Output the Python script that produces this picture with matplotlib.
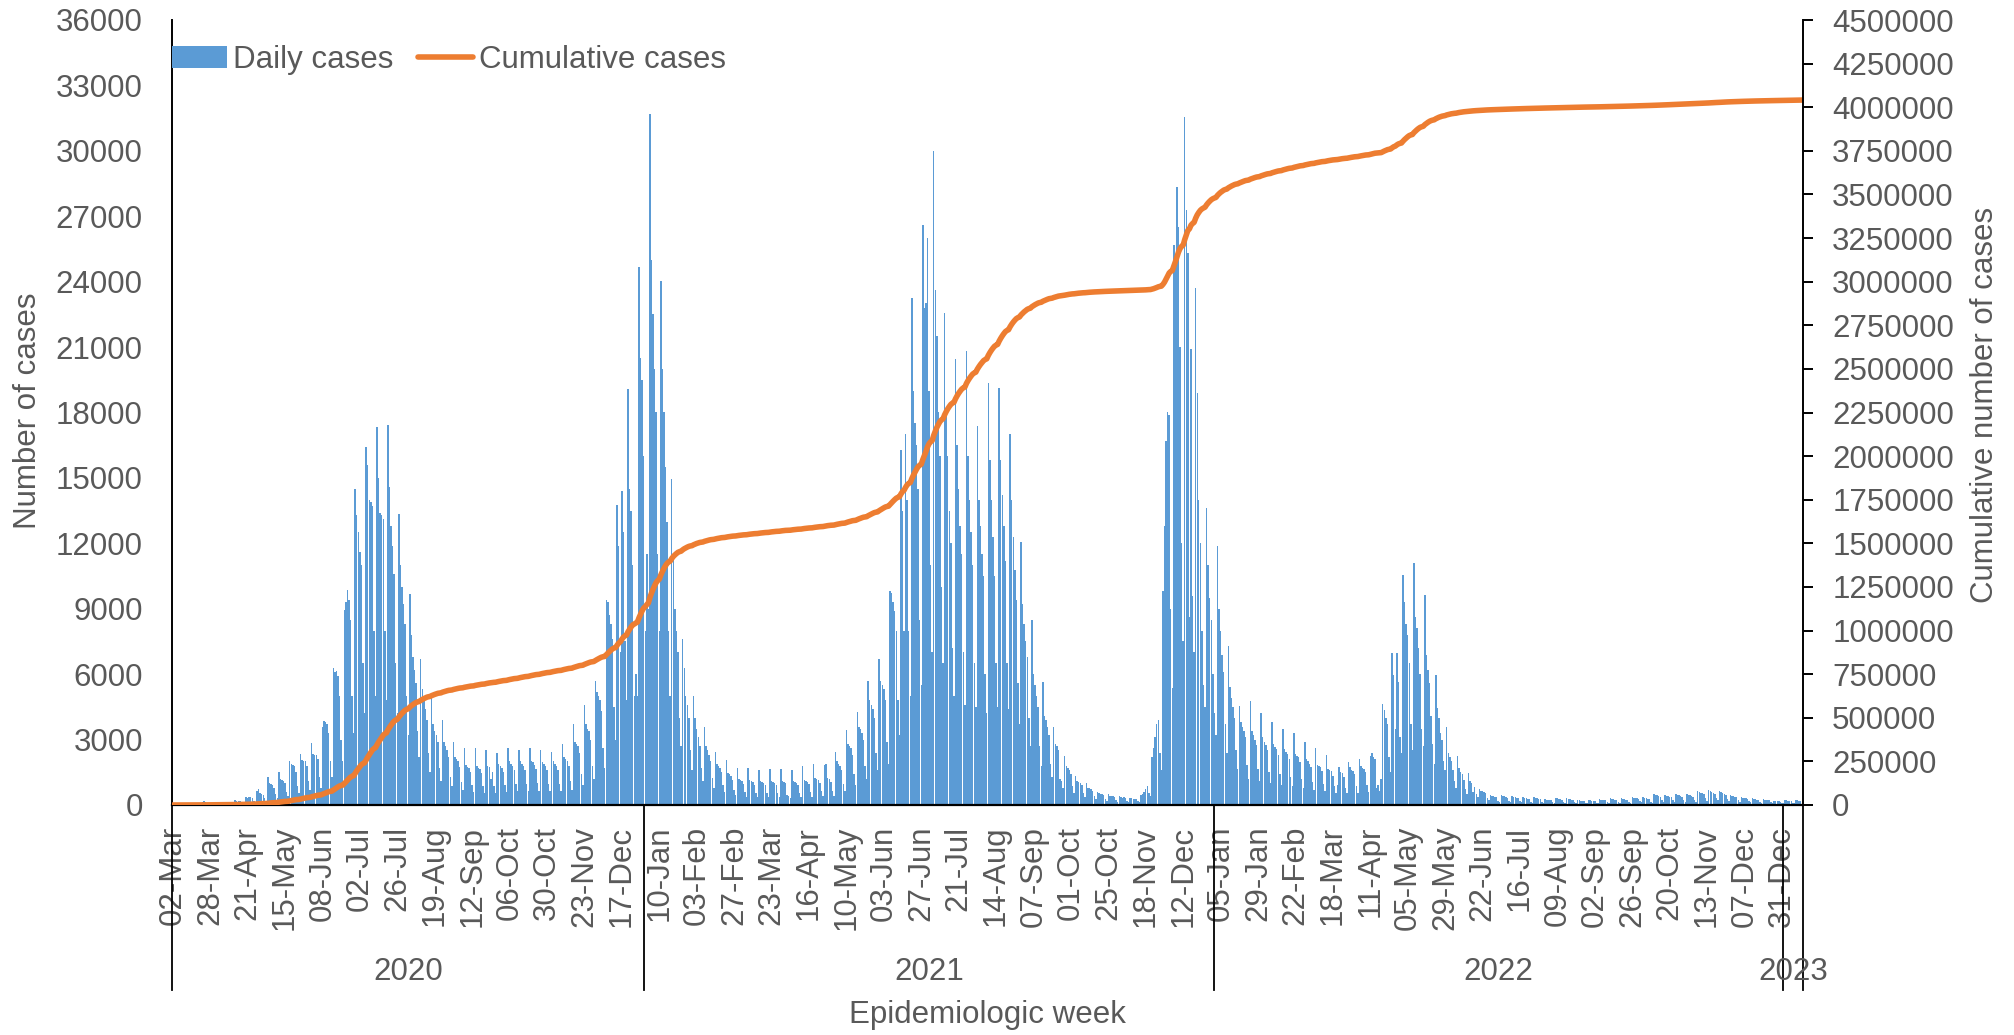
import matplotlib
matplotlib.use('Agg')
import matplotlib.pyplot as plt
import numpy as np
import pandas as pd

plt.rcParams['font.family'] = ['Liberation Sans', 'DejaVu Sans']
GREY = '#595959'

# reporting days: 02-Mar-2020, then 05-Mar-2020 .. 13-Jan-2023
dates = [pd.Timestamp('2020-03-02')] + list(pd.date_range('2020-03-05', '2023-01-13'))

# 02-Mar, 05-Mar .. 08-Mar
first_days = [0, 1, 0, 1, 1]

# daily cases, one row per week, Mon..Sun (row = Monday date)
weeks_2020 = [
    [3, 4, 6, 10, 13, 20, 24],                          # 09-Mar
    [30, 35, 50, 60, 80, 90, 60],
    [130, 170, 120, 90, 70, 60, 40],
    [50, 60, 70, 60, 55, 40, 30],
    [120, 110, 100, 95, 90, 60, 40],                    # 06-Apr
    [230, 200, 190, 180, 150, 100, 70],
    [380, 330, 350, 370, 300, 180, 120],
    [650, 720, 560, 520, 480, 300, 200],
    [1270, 1000, 950, 900, 800, 500, 330],              # 04-May
    [1530, 1200, 1150, 1100, 1000, 600, 400],
    [2030, 1900, 1850, 1800, 1500, 850, 550],
    [2340, 2050, 2000, 2000, 1800, 1100, 700],
    [2830, 2350, 2300, 2300, 2100, 1300, 800],          # 01-Jun
    [3600, 3850, 3800, 3700, 3300, 2000, 1300],
    [6270, 6100, 6150, 5900, 5000, 3000, 2000],
    [8950, 9300, 9860, 9400, 8500, 5000, 3300],
    [14500, 13300, 12500, 11600, 11000, 6500, 4200],    # 29-Jun
    [16440, 15600, 14000, 13900, 13700, 8000, 5000],
    [17320, 15000, 13400, 13300, 13100, 8000, 4800],
    [17430, 14600, 12800, 11900, 10600, 6500, 4200],
    [13330, 11000, 10000, 9200, 8300, 5000, 3200],      # 27-Jul
    [9680, 7800, 6800, 6200, 5600, 3400, 2200],
    [6700, 5300, 4800, 4400, 3900, 2400, 1500],
    [4900, 3700, 3400, 3200, 2900, 1700, 1100],
    [3900, 2900, 2700, 2500, 2200, 1300, 850],          # 24-Aug
    [2900, 2200, 2100, 2000, 1750, 1050, 700],
    [2630, 1850, 1750, 1700, 1500, 900, 600],
    [2600, 1800, 1700, 1650, 1450, 850, 550],
    [2500, 1800, 1750, 1200, 1500, 850, 550],           # 21-Sep
    [2400, 1900, 1800, 1700, 1500, 900, 600],
    [2600, 2000, 1900, 1800, 1600, 950, 650],
    [2500, 2000, 1900, 1800, 1600, 950, 650],
    [2600, 2000, 1950, 1850, 1650, 1000, 650],          # 19-Oct
    [2500, 1950, 1900, 1800, 1600, 950, 650],
    [2450, 2000, 1900, 1800, 1600, 950, 650],
    [2780, 2200, 2100, 2000, 1800, 1100, 700],
    [3700, 2900, 2800, 2700, 2400, 1400, 900],          # 16-Nov
    [4600, 3700, 3500, 3400, 3000, 1800, 1200],
    [5700, 5200, 5000, 4800, 4300, 2600, 1700],
    [9400, 9300, 8700, 8300, 7600, 4500, 3000],
    [13780, 11900, 7000, 14400, 12500, 7500, 4800],     # 14-Dec
    [19060, 14500, 13500, 11000, 5000, 6000, 5000],
    [24680, 20500, 19500, 16000, 8000, 11500, 9000],
]

weeks_2021 = [
    [31690, 25000, 22500, 20000, 18000, 11500, 8000],   # 04-Jan
    [24040, 20000, 18000, 15500, 13000, 8000, 5000],
    [14960, 11500, 9000, 8000, 7000, 4000, 2700],
    [7590, 6300, 5000, 4600, 4000, 2500, 1600],
    [5000, 4000, 3500, 3100, 2700, 1700, 1100],         # 01-Feb
    [3600, 2700, 2500, 2300, 2000, 1250, 800],
    [2450, 1900, 1800, 1700, 1500, 900, 600],
    [2050, 1450, 1400, 1350, 1150, 700, 450],
    [1710, 1200, 1150, 1100, 950, 600, 380],            # 01-Mar
    [1680, 1150, 1100, 1050, 900, 550, 350],
    [1590, 1100, 1050, 1000, 900, 550, 350],
    [1670, 1100, 1050, 1000, 900, 550, 350],
    [1640, 1100, 1050, 1000, 450, 400, 300],            # 29-Mar
    [1590, 1100, 1050, 1000, 900, 550, 350],
    [1790, 1150, 1100, 1050, 950, 600, 380],
    [1865, 1250, 1200, 1150, 1000, 650, 400],
    [1820, 1900, 1250, 1200, 1050, 650, 400],           # 26-Apr
    [2450, 2000, 1900, 1800, 1600, 950, 650],
    [3425, 2800, 2700, 2600, 2300, 1400, 900],
    [4270, 3600, 3500, 3300, 3000, 1800, 1200],
    [5670, 4800, 4600, 4400, 4000, 2400, 1600],         # 24-May
    [6680, 5700, 5500, 5300, 4800, 2900, 1900],
    [9820, 9700, 9300, 8900, 8000, 4800, 3200],
    [16290, 13500, 8000, 17000, 14000, 8000, 5000],
    [23270, 19000, 17500, 16500, 14500, 8500, 5500],    # 21-Jun
    [26610, 22800, 23000, 26000, 19000, 11000, 7000],
    [29990, 23600, 21500, 18000, 16000, 10000, 6500],
    [22570, 18000, 16000, 13500, 12000, 7200, 5000],
    [20440, 16500, 14500, 12800, 11500, 7000, 4600],    # 19-Jul
    [20830, 16000, 14000, 12500, 11000, 6500, 4500],
    [17400, 14000, 12800, 11500, 10500, 6000, 4200],
    [19340, 15800, 14000, 12300, 10500, 6500, 4500],
    [19140, 15800, 14200, 12800, 11200, 6500, 4400],    # 16-Aug
    [17000, 14000, 12300, 10800, 9400, 5600, 3700],
    [12050, 9200, 8300, 7500, 6800, 4000, 2700],
    [8500, 6000, 5500, 5000, 4500, 2700, 1800],
    [5650, 4100, 3900, 3600, 3200, 1900, 1300],         # 13-Sep
    [3570, 2800, 2700, 2500, 1200, 1100, 800],
    [2230, 1800, 1700, 1600, 1400, 850, 550],
    [1320, 1100, 1050, 1000, 900, 550, 350],
    [1010, 800, 780, 750, 650, 400, 260],               # 11-Oct
    [610, 550, 520, 500, 450, 280, 180],
    [500, 430, 420, 400, 360, 220, 150],
    [400, 380, 300, 350, 320, 200, 130],
    [300, 300, 290, 280, 260, 170, 120],                # 08-Nov
    [450, 500, 600, 750, 850, 550, 400],
    [2200, 2600, 3100, 3700, 3900, 2400, 1600],
    [9800, 12800, 16700, 18000, 17900, 9000, 5380],
    [25700, 25000, 28350, 26500, 21000, 12000, 7500],   # 06-Dec
    [31540, 27300, 25300, 8600, 20900, 9600, 7000],
    [23700, 18900, 14000, 12000, 8000, 5500, 4500],
    [13600, 11000, 9500, 8500, 6000, 4200, 3200],
]

weeks_2022 = [
    [11900, 9000, 8000, 6900, 6100, 3700, 2400],        # 03-Jan
    [7300, 5400, 4900, 4500, 4000, 2500, 1650],
    [4540, 3800, 3600, 3400, 3100, 1850, 1200],
    [4750, 3400, 3200, 3000, 2750, 1650, 1100],
    [4200, 3100, 2900, 2750, 2500, 1500, 1000],         # 31-Jan
    [3800, 2800, 2650, 2550, 2300, 1400, 900],
    [3500, 2550, 2450, 2350, 2100, 1300, 850],
    [3300, 2350, 2250, 2200, 1950, 1200, 800],
    [2900, 2100, 2000, 1900, 1750, 1050, 700],          # 28-Feb
    [2600, 1850, 1800, 1750, 1550, 950, 650],
    [2300, 1650, 1600, 1550, 1350, 850, 550],
    [900, 1760, 1500, 1450, 1300, 800, 550],
    [1990, 1760, 1600, 1550, 1400, 850, 550],           # 28-Mar
    [2095, 1790, 1700, 1650, 1500, 900, 600],
    [2250, 2370, 2200, 2100, 800, 900, 650],
    [1180, 4630, 4360, 4000, 3700, 2200, 1500],
    [6990, 5960, 3500, 6990, 5660, 3130, 2400],         # 25-Apr
    [10550, 9300, 8300, 7800, 6500, 3700, 2500],
    [11090, 8600, 8100, 7200, 6000, 3500, 2700],
    [9630, 6900, 6200, 5600, 4100, 2800, 1900],
    [5960, 4430, 4000, 3290, 3000, 2000, 1600],         # 23-May
    [3560, 2370, 2200, 2000, 1600, 1100, 800],
    [2250, 1680, 1500, 1400, 1150, 750, 500],
    [1450, 1100, 1000, 600, 840, 500, 350],
    [720, 650, 620, 600, 550, 330, 220],                # 20-Jun
    [460, 420, 400, 380, 350, 200, 140],
    [460, 420, 400, 380, 340, 200, 140],
    [410, 380, 360, 340, 310, 180, 120],
    [350, 320, 300, 290, 260, 160, 110],                # 18-Jul
    [350, 320, 300, 290, 260, 160, 110],
    [275, 250, 240, 230, 210, 130, 90],
    [340, 300, 280, 270, 240, 150, 100],
    [305, 280, 260, 250, 230, 140, 95],                 # 15-Aug
    [230, 210, 200, 190, 175, 110, 75],
    [230, 210, 200, 190, 175, 110, 75],
    [275, 250, 240, 230, 210, 130, 90],
    [305, 280, 260, 250, 230, 140, 95],                 # 12-Sep
    [305, 280, 260, 250, 230, 140, 95],
    [380, 340, 330, 310, 290, 170, 120],
    [350, 320, 300, 290, 270, 160, 110],
    [505, 460, 440, 420, 380, 230, 150],                # 10-Oct
    [460, 420, 400, 380, 350, 210, 140],
    [505, 460, 440, 420, 380, 230, 150],
    [505, 460, 440, 420, 380, 230, 150],
    [660, 600, 570, 540, 500, 300, 200],                # 07-Nov
    [690, 620, 600, 570, 520, 310, 210],
    [640, 580, 550, 520, 480, 290, 190],
    [460, 420, 400, 380, 350, 210, 140],
    [380, 340, 330, 310, 290, 170, 120],                # 05-Dec
    [305, 280, 260, 250, 230, 140, 95],
    [275, 250, 240, 230, 210, 130, 90],
    [180, 200, 190, 180, 160, 100, 70],
]

weeks_2023 = [
    [230, 210, 200, 190, 175, 110, 75],                 # 02-Jan
    [230, 210, 200, 190, 175],                          # 09-Jan .. 13-Jan
]

daily = first_days + [v for wk in weeks_2020 + weeks_2021 + weeks_2022 + weeks_2023 for v in wk]
cumulative = np.cumsum(daily)
x = np.arange(len(daily))

# year groups on the category axis
years = ['2020', '2021', '2022', '2023']
year_edges = [-0.5]
for y in years:
    year_edges.append(max(i for i, d in enumerate(dates) if d.year == int(y)) + 0.5)

fig = plt.figure(figsize=(20.15, 10.35), dpi=100)
ax = fig.add_axes([172 / 2015, 1 - 805 / 1035, (1803 - 172) / 2015, 785 / 1035])

bars = ax.bar(x, daily, width=0.92, color='#5B9BD5', linewidth=0, label='Daily cases')
ax.set_xlim(-0.5, len(daily) - 0.5)
ax.set_ylim(0, 36000)
ax.set_yticks(range(0, 36001, 3000))
ax.set_yticklabels([str(v) for v in range(0, 36001, 3000)])

ticks = list(range(0, len(dates), 24))
ax.set_xticks(ticks)
ax.set_xticklabels([dates[i].strftime('%d-%b') for i in ticks], rotation=90)
ax.tick_params(axis='x', length=0, pad=15, labelsize=22.5, labelcolor=GREY)
ax.tick_params(axis='y', length=0, pad=21, labelsize=22.5, labelcolor=GREY)

for s in ['top', 'right']:
    ax.spines[s].set_visible(False)
ax.spines['left'].set_linewidth(1.4)
ax.spines['bottom'].set_linewidth(1.6)

ax2 = ax.twinx()
line, = ax2.plot(x, cumulative, color='#ED7D31', lw=4, label='Cumulative cases',
                 solid_capstyle='round', solid_joinstyle='round')
ax2.set_ylim(0, 4500000)
ax2.set_yticks(range(0, 4500001, 250000))
ax2.set_yticklabels([str(v) for v in range(0, 4500001, 250000)])
ax2.tick_params(axis='y', length=7, width=1.4, pad=14, labelsize=22.5, labelcolor=GREY)
for s in ['top', 'left', 'bottom']:
    ax2.spines[s].set_visible(False)
ax2.spines['right'].set_linewidth(1.4)

# year separators and labels below the date labels
trans = ax.get_xaxis_transform()
for e in year_edges:
    ax.plot([e, e], [0, -0.2357], transform=trans, color='black', lw=1.3, clip_on=False)
for y, a, b in zip(years, year_edges[:-1], year_edges[1:]):
    ax.text((a + b) / 2, -0.2127, y, transform=trans, ha='center', va='center',
            fontsize=22.5, color=GREY)

ax.text(0.5, -0.2675, 'Epidemiologic week', transform=ax.transAxes, ha='center',
        va='center', fontsize=22.5, color=GREY)
fig.text(28 / 2015, 1 - 411 / 1035, 'Number of cases', rotation=90, ha='center',
         va='center', fontsize=22.5, color=GREY)
fig.text(1985 / 2015, 1 - 405 / 1035, 'Cumulative number of cases', rotation=90,
         ha='center', va='center', fontsize=22.5, color=GREY)

ax2.legend([bars, line], ['Daily cases', 'Cumulative cases'], loc='upper left',
           bbox_to_anchor=(172 / 2015, 1 - 45 / 1035), bbox_transform=fig.transFigure,
           ncol=2, frameon=False, fontsize=22.5, handlelength=1.75, handletextpad=0.2,
           columnspacing=0.8, borderpad=0, borderaxespad=0, labelcolor=GREY)

fig.savefig('out.png', dpi=100)
